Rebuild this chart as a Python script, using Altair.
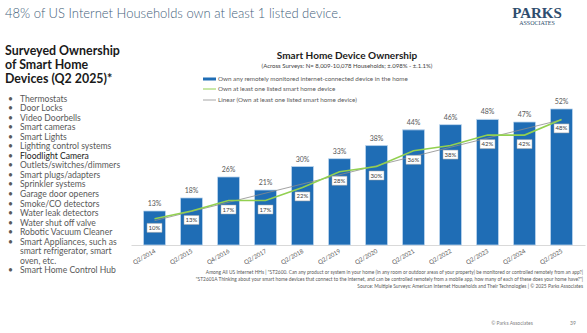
import altair as alt
import pandas as pd

periods = ["Q2/2014", "Q2/2015", "Q4/2016", "Q2/2017", "Q2/2018", "Q2/2019",
           "Q2/2020", "Q2/2021", "Q2/2022", "Q2/2023", "Q2/2024", "Q2/2025"]
any_device = [13, 18, 26, 21, 30, 33, 38, 44, 46, 48, 47, 52]
listed_device = [10, 13, 17, 17, 22, 28, 30, 36, 38, 42, 42, 48]

legend_labels = [
    "Own any remotely monitored internet-connected device in the home",
    "Own at least one listed smart home device",
    "Linear (Own at least one listed smart home device)",
]
heading_lines = ["Surveyed Ownership", "of Smart Home", "Devices (Q2 2025)*"]
bullet_items = [
    "Thermostats", "Door Locks", "Video Doorbells", "Smart cameras", "Smart Lights",
    "Lighting control systems", "Floodlight Camera", "Outlets/switches/dimmers",
    "Smart plugs/adapters", "Sprinkler systems", "Garage door openers",
    "Smoke/CO detectors", "Water leak detectors", "Water shut off valve",
    "Robotic Vacuum Cleaner", "Smart Appliances, such as", "smart refrigerator, smart",
    "oven, etc.", "Smart Home Control Hub",
]
has_bullet = [True] * 16 + [False, False] + [True]
footnotes = [
    "Among All US Internet HHs | \"ST2600.  Can any product or system in your home (in any room or outdoor areas of your property) be monitored or controlled remotely from an app?|",
    "\"ST2601A Thinking about your smart home devices that connect to the internet, and can be controlled remotely from a mobile app, how many of each of these does your home have?\"|",
    "Source: Multiple Surveys: American Internet Households and Their Technologies  | © 2025 Parks Associates",
]

df = pd.DataFrame({"idx": list(range(len(periods))), "period": periods,
                   "any": any_device, "listed": listed_device})
one = pd.DataFrame({"a": [0]})

OX, OY = 131, 88
W, H = 454, 157
FONT = "Lato"

label_expr = "[" + ",".join("'%s'" % p for p in periods) + "][datum.value]"

xenc = alt.X("idx:Q",
             scale=alt.Scale(domain=[-0.5, len(periods) - 0.5], nice=False, zero=False),
             axis=alt.Axis(values=list(range(len(periods))), labelExpr=label_expr,
                           labelAngle=-30, labelAlign="right", labelBaseline="middle",
                           ticks=False, grid=False, domainColor="#d9d9d9", domainWidth=1,
                           labelFont=FONT, labelFontSize=6, labelColor="#595959",
                           labelPadding=5),
             title=None)
yscale = alt.Scale(domain=[0, 60], nice=False)

base = alt.Chart(df)

bars = base.mark_bar(width=22, color="#1f6db5", stroke="#bcd6ee", strokeWidth=0.8).encode(
    x=xenc, y=alt.Y("any:Q", scale=yscale, axis=None))

bar_labels = base.transform_calculate(lab="datum.any + '%'").mark_text(
    dy=-7, fontSize=7, font=FONT, color="#595959").encode(
    x="idx:Q", y=alt.Y("any:Q", scale=yscale), text="lab:N")

trend = base.transform_regression("idx", "listed").mark_line(
    color="#8c8c8c", strokeWidth=0.8).encode(x="idx:Q", y=alt.Y("listed:Q", scale=yscale))

green = base.mark_line(color="#92d050", strokeWidth=1.6).encode(
    x="idx:Q", y=alt.Y("listed:Q", scale=yscale))

boxes = base.mark_tick(orient="horizontal", size=15, thickness=9, fill="white",
                       stroke="#a6a6a6", strokeWidth=0.5, opacity=1, yOffset=9).encode(
    x="idx:Q", y=alt.Y("listed:Q", scale=yscale))

box_labels = base.transform_calculate(lab="datum.listed + '%'").mark_text(
    dy=9, fontSize=6, font=FONT, color="#404040").encode(
    x="idx:Q", y=alt.Y("listed:Q", scale=yscale), text="lab:N")


def txt(s, x, y, size, color="#404040", weight="normal", align="left",
        baseline="middle", font=FONT, line_height=None):
    kw = dict(fontSize=size, color=color, fontWeight=weight, align=align,
              baseline=baseline, font=font)
    if line_height is not None:
        kw["lineHeight"] = line_height
    return alt.Chart(one).mark_text(**kw).encode(
        x=alt.value(x - OX), y=alt.value(y - OY), text=alt.value(s))


# legend swatches
leg_blue = alt.Chart(one).mark_rect(color="#1f6db5").encode(
    x=alt.value(203 - OX), x2=alt.value(216 - OX), y=alt.value(77.5 - OY), y2=alt.value(80.5 - OY))
leg_green = alt.Chart(one).mark_rule(color="#92d050", strokeWidth=1).encode(
    x=alt.value(203 - OX), x2=alt.value(216 - OX), y=alt.value(89 - OY))
leg_gray = alt.Chart(one).mark_rule(color="#a6a6a6", strokeWidth=1).encode(
    x=alt.value(203 - OX), x2=alt.value(216 - OX), y=alt.value(100 - OY))

LH = 9.55
BY = 98.5
layers = [
    bars, trend, green, boxes, box_labels, bar_labels,
    leg_blue, leg_green, leg_gray,
    txt(legend_labels[0], 218, 79, 6.3, "#595959"),
    txt(legend_labels[1], 218, 89, 6.3, "#595959"),
    txt(legend_labels[2], 218, 100, 6.3, "#595959"),
    txt("48% of US Internet Households own at least 1 listed device.", 5, 14, 13, "#44617b",
        weight=300),
    txt("PARKS", 537, 13, 15, "#2f4d6e", weight="bold", align="center", font="Liberation Serif"),
    txt("ASSOCIATES", 537, 23, 6, "#2f4d6e", align="center", font="Liberation Serif"),
    txt(heading_lines, 5, 44.5, 12.4, "#1a1a1a", weight="bold", baseline="top", line_height=14),
    txt("Smart Home Device Ownership", 347, 56, 10, "#1a1a1a", weight="bold", align="center"),
    txt("(Across Surveys: N= 8,009-10,078 Households; ±.098% - ±.1.1%)", 347, 66, 6,
        "#404040", align="center"),
    txt(footnotes[0], 583, 273, 4.85, "#595959", align="right"),
    txt(footnotes[1], 583, 280, 4.85, "#595959", align="right"),
    txt(footnotes[2], 583, 287, 4.85, "#595959", align="right"),
    txt("© Parks Associates", 512, 323, 5, "#7f7f7f", align="center"),
    txt("39", 573, 323, 5, "#7f7f7f", align="center"),
]

for i, (item, bul) in enumerate(zip(bullet_items, has_bullet)):
    yy = BY + i * LH
    col = "#1a1a1a" if item == "Floodlight Camera" else "#595959"
    if bul:
        layers.append(txt("•", 8, yy, 8.6, "#595959"))
    layers.append(txt(item, 20, yy, 8.6, col))

chart = alt.layer(*layers).properties(
    width=W, height=H,
    autosize=alt.AutoSizeParams(type="none"),
    padding={"left": OX, "top": OY, "right": 587 - OX - W, "bottom": 333 - OY - H},
    background="white",
).configure_view(stroke=None)

chart.save("out.html", embed_options={"renderer": "svg", "actions": False})
